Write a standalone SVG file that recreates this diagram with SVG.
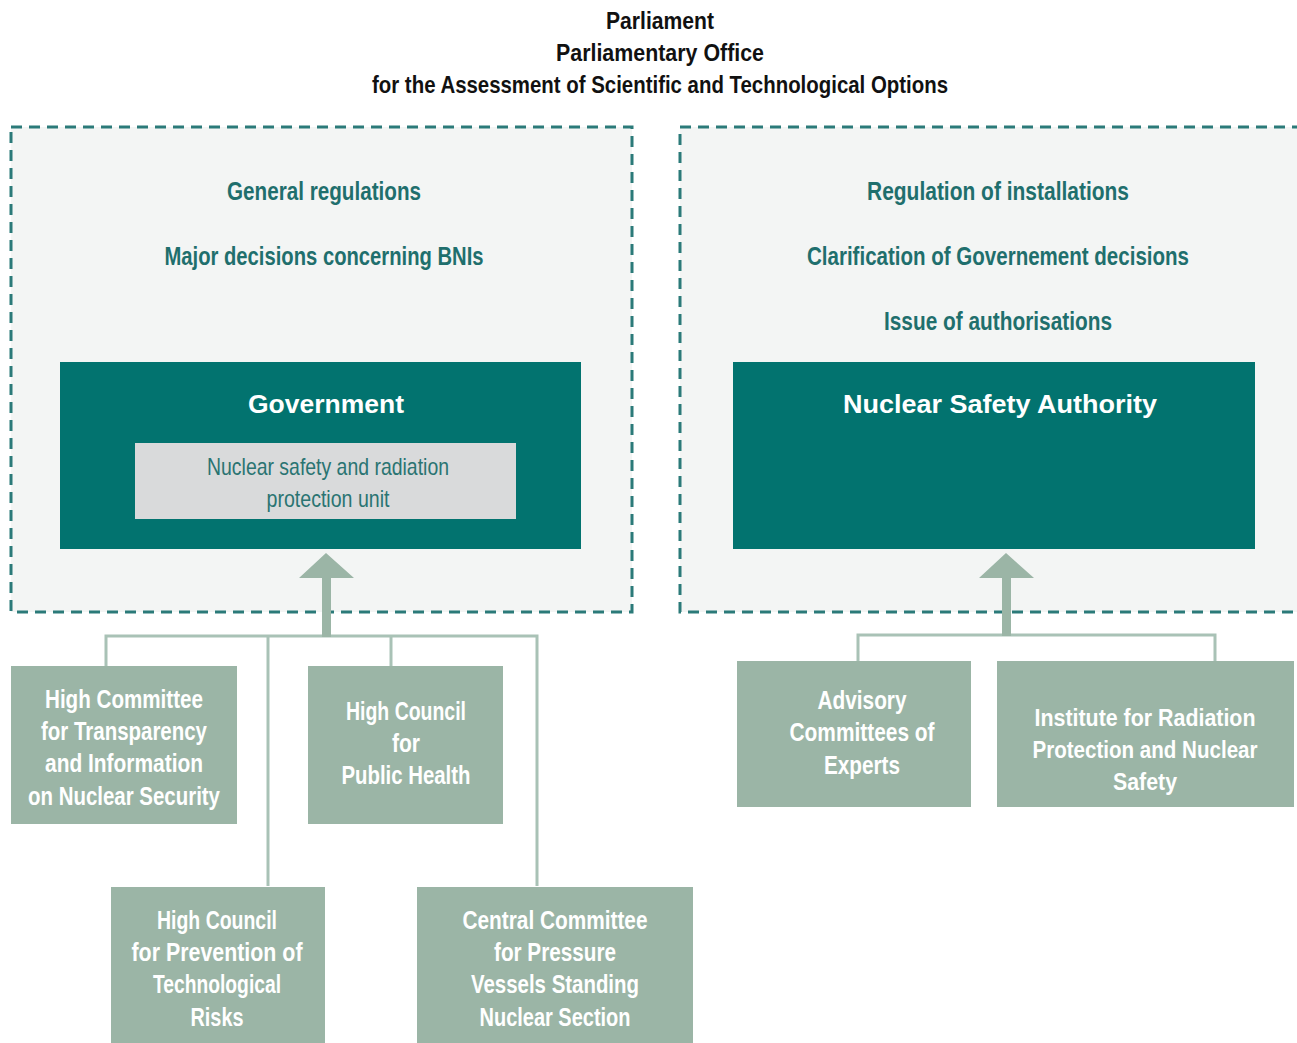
<svg xmlns="http://www.w3.org/2000/svg" width="1297" height="1043" viewBox="0 0 1297 1043">
<style>
text{font-family:"Liberation Sans","DejaVu Sans",Arial,sans-serif;text-anchor:middle;}
.title{font-size:24px;font-weight:bold;fill:#111;}
.teal{font-size:25px;font-weight:bold;fill:#1f6f6d;}
.head{font-size:25px;font-weight:bold;fill:#ffffff;}
.unit{font-size:24px;fill:#2a7472;}
.wt{font-size:25px;font-weight:bold;fill:#ffffff;}
.wts{font-size:23px;font-weight:bold;fill:#ffffff;}
.zone{fill:#f3f5f4;stroke:#2b7a79;stroke-width:3;stroke-dasharray:11 7;}
.dark{fill:#02736f;}
.sage{fill:#9bb5a6;}
.conn{fill:none;stroke:#a9c2b6;stroke-width:3;}
.arrow{fill:#9bb5a6;}
</style>
<rect width="1297" height="1043" fill="#ffffff"/>

<g id="title">
<text class="title" x="660" y="29" textLength="108" lengthAdjust="spacingAndGlyphs">Parliament</text>
<text class="title" x="660" y="61" textLength="208" lengthAdjust="spacingAndGlyphs">Parliamentary Office</text>
<text class="title" x="660" y="93" textLength="576" lengthAdjust="spacingAndGlyphs">for the Assessment of Scientific and Technological Options</text>
</g>

<g id="zone-left">
<rect class="zone" x="11" y="127" width="621" height="485"/>
<text class="teal" x="324" y="200" textLength="194" lengthAdjust="spacingAndGlyphs">General regulations</text>
<text class="teal" x="324" y="265" textLength="319" lengthAdjust="spacingAndGlyphs">Major decisions concerning BNIs</text>
</g>

<g id="zone-right">
<rect class="zone" x="680" y="127" width="640" height="485"/>
<text class="teal" x="998" y="200" textLength="262" lengthAdjust="spacingAndGlyphs">Regulation of installations</text>
<text class="teal" x="998" y="265" textLength="382" lengthAdjust="spacingAndGlyphs">Clarification of Governement decisions</text>
<text class="teal" x="998" y="330" textLength="228" lengthAdjust="spacingAndGlyphs">Issue of authorisations</text>
</g>

<g id="connectors">
<polyline class="conn" points="106,666 106,636 537,636 537,886"/>
<line class="conn" x1="268" y1="636" x2="268" y2="886"/>
<line class="conn" x1="391" y1="636" x2="391" y2="666"/>
<polyline class="conn" points="858,661 858,635 1215,635 1215,661"/>
<polygon class="arrow" points="326,553 354,578 331,578 331,637 322,637 322,578 299,578"/>
<polygon class="arrow" points="1006,553 1034,578 1011,578 1011,636 1002,636 1002,578 979,578"/>
</g>

<g id="government">
<rect class="dark" x="60" y="362" width="521" height="187"/>
<text class="head" x="326" y="413" textLength="156" lengthAdjust="spacingAndGlyphs">Government</text>
</g>

<g id="nsr-unit">
<rect x="135" y="443" width="381" height="76" fill="#d9dadb"/>
<text class="unit" x="328" y="475" textLength="242" lengthAdjust="spacingAndGlyphs">Nuclear safety and radiation</text>
<text class="unit" x="328" y="507" textLength="123" lengthAdjust="spacingAndGlyphs">protection unit</text>
</g>

<g id="asn">
<rect class="dark" x="733" y="362" width="522" height="187"/>
<text class="head" x="1000" y="413" textLength="314" lengthAdjust="spacingAndGlyphs">Nuclear Safety Authority</text>
</g>

<g id="hctisn">
<rect class="sage" x="11" y="666" width="226" height="158"/>
<text class="wt" x="124" y="708" textLength="158" lengthAdjust="spacingAndGlyphs">High Committee</text>
<text class="wt" x="124" y="740" textLength="166" lengthAdjust="spacingAndGlyphs">for Transparency</text>
<text class="wt" x="124" y="772" textLength="158" lengthAdjust="spacingAndGlyphs">and Information</text>
<text class="wt" x="124" y="805" textLength="192" lengthAdjust="spacingAndGlyphs">on Nuclear Security</text>
</g>

<g id="hcsp">
<rect class="sage" x="308" y="666" width="195" height="158"/>
<text class="wt" x="406" y="720" textLength="120" lengthAdjust="spacingAndGlyphs">High Council</text>
<text class="wt" x="406" y="752" textLength="28" lengthAdjust="spacingAndGlyphs">for</text>
<text class="wt" x="406" y="784" textLength="129" lengthAdjust="spacingAndGlyphs">Public Health</text>
</g>

<g id="cspprt">
<rect class="sage" x="111" y="887" width="214" height="160"/>
<text class="wt" x="217" y="929" textLength="120" lengthAdjust="spacingAndGlyphs">High Council</text>
<text class="wt" x="217" y="961" textLength="171" lengthAdjust="spacingAndGlyphs">for Prevention of</text>
<text class="wt" x="217" y="993" textLength="128" lengthAdjust="spacingAndGlyphs">Technological</text>
<text class="wt" x="217" y="1026" textLength="53" lengthAdjust="spacingAndGlyphs">Risks</text>
</g>

<g id="ccap">
<rect class="sage" x="417" y="887" width="276" height="160"/>
<text class="wt" x="555" y="929" textLength="185" lengthAdjust="spacingAndGlyphs">Central Committee</text>
<text class="wt" x="555" y="961" textLength="122" lengthAdjust="spacingAndGlyphs">for Pressure</text>
<text class="wt" x="555" y="993" textLength="168" lengthAdjust="spacingAndGlyphs">Vessels Standing</text>
<text class="wt" x="555" y="1026" textLength="151" lengthAdjust="spacingAndGlyphs">Nuclear Section</text>
</g>

<g id="advisory">
<rect class="sage" x="737" y="661" width="234" height="146"/>
<text class="wt" x="862" y="709" textLength="89" lengthAdjust="spacingAndGlyphs">Advisory</text>
<text class="wt" x="862" y="741" textLength="145" lengthAdjust="spacingAndGlyphs">Committees of</text>
<text class="wt" x="862" y="774" textLength="76" lengthAdjust="spacingAndGlyphs">Experts</text>
</g>

<g id="irsn">
<rect class="sage" x="997" y="661" width="297" height="146"/>
<text class="wts" x="1145" y="726" textLength="221" lengthAdjust="spacingAndGlyphs">Institute for Radiation</text>
<text class="wts" x="1145" y="758" textLength="225" lengthAdjust="spacingAndGlyphs">Protection and Nuclear</text>
<text class="wts" x="1145" y="790" textLength="64" lengthAdjust="spacingAndGlyphs">Safety</text>
</g>
</svg>
